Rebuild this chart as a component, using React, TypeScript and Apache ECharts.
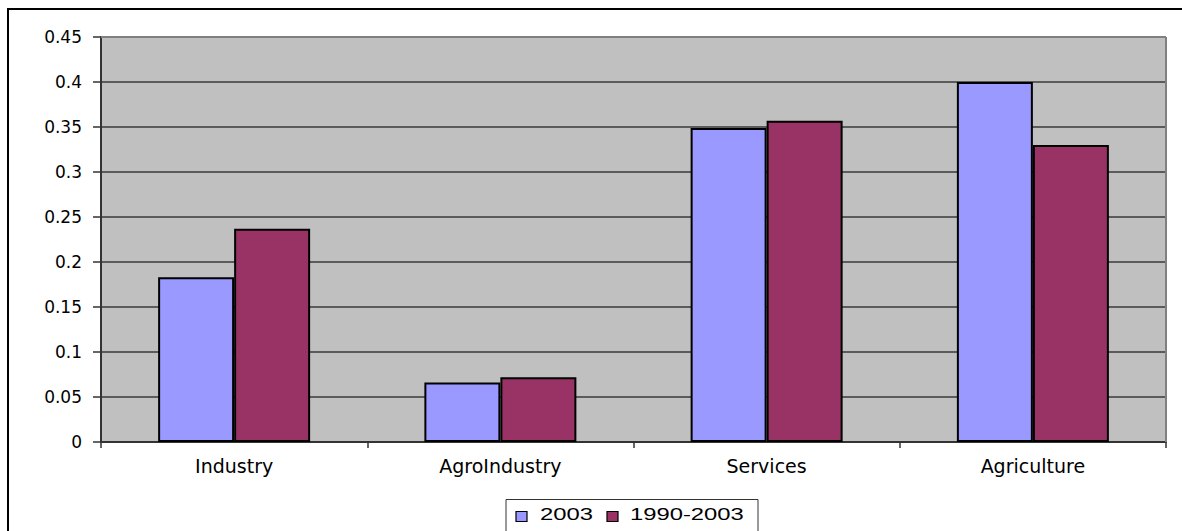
import React, { useEffect, useRef } from "react";
import * as echarts from "echarts";

// Sector shares, two periods
const categories = ["Industry", "AgroIndustry", "Services", "Agriculture"];
const seriesNames = ["2003", "1990-2003"];
const values2003 = [0.183, 0.066, 0.349, 0.4];
const values1990to2003 = [0.237, 0.072, 0.357, 0.33];
const seriesColors = ["#9999FF", "#993366"];

const yMin = 0;
const yMax = 0.45;
const yStep = 0.05;

const labelFont = "'DejaVu Sans', 'Liberation Sans', Arial, sans-serif";
const legendFont = "'Liberation Sans', Arial, sans-serif";

export default function App() {
  const ref = useRef<HTMLDivElement>(null);

  useEffect(() => {
    document.body.style.margin = "0";
    if (!ref.current) return;
    const chart = echarts.init(ref.current, null, { renderer: "svg" });

    const plot = { left: 101, top: 37, right: 1166, bottom: 442 };

    // hand-built legend box with horizontally stretched labels
    const legendItems = [
      { iconX: 516, textX: 540 },
      { iconX: 607, textX: 630 },
    ];
    const legendGraphics: any[] = [
      {
        type: "rect",
        shape: { x: 506, y: 499.5, width: 252, height: 32 },
        style: { fill: "#ffffff", stroke: "#333333", lineWidth: 1 },
        z: 10,
      },
    ];
    seriesNames.forEach((name, i) => {
      legendGraphics.push({
        type: "rect",
        shape: { x: legendItems[i].iconX, y: 511.5, width: 11, height: 10 },
        style: { fill: seriesColors[i], stroke: "#000000", lineWidth: 1.2 },
        z: 11,
      });
      legendGraphics.push({
        type: "text",
        x: legendItems[i].textX,
        y: 514,
        scaleX: 1.4,
        style: {
          text: name,
          fill: "#000000",
          font: `17px ${legendFont}`,
          textAlign: "left",
          textVerticalAlign: "middle",
        },
        z: 11,
      });
    });

    chart.setOption({
      animation: false,
      backgroundColor: "#ffffff",
      grid: {
        left: plot.left,
        top: plot.top,
        width: plot.right - plot.left,
        height: plot.bottom - plot.top,
        show: true,
        backgroundColor: "#C0C0C0",
        borderWidth: 0,
      },
      xAxis: {
        type: "category",
        data: categories,
        axisLine: { show: true, lineStyle: { color: "#333333", width: 2 } },
        axisTick: { show: true, length: 6, lineStyle: { color: "#333333", width: 1.5 } },
        axisLabel: {
          color: "#000000",
          fontFamily: labelFont,
          fontSize: 19,
          margin: 14,
        },
        splitLine: { show: false },
      },
      yAxis: {
        type: "value",
        min: yMin,
        max: yMax,
        interval: yStep,
        axisLine: { show: true, lineStyle: { color: "#333333", width: 2 } },
        axisTick: { show: true, length: 8, lineStyle: { color: "#333333", width: 1.5 } },
        axisLabel: {
          color: "#000000",
          fontFamily: labelFont,
          fontSize: 17,
          margin: 19,
          formatter: (v: number) => String(+v.toFixed(2)),
        },
        splitLine: { show: true, lineStyle: { color: "#3a3a3a", width: 1.5 } },
      },
      series: [
        {
          name: seriesNames[0],
          type: "bar",
          data: values2003,
          barWidth: 76,
          barGap: "0%",
          itemStyle: { color: seriesColors[0], borderColor: "#000000", borderWidth: 2 },
        },
        {
          name: seriesNames[1],
          type: "bar",
          data: values1990to2003,
          barWidth: 76,
          barGap: "0%",
          itemStyle: { color: seriesColors[1], borderColor: "#000000", borderWidth: 2 },
        },
      ],
      graphic: [
        // outer chart frame, running past the page edges
        {
          type: "rect",
          shape: { x: 8, y: 9, width: 1300, height: 700 },
          style: { fill: "none", stroke: "#000000", lineWidth: 2 },
          z: 5,
        },
        // grey plot-area border on top and right
        {
          type: "line",
          shape: { x1: plot.left, y1: plot.top, x2: plot.right, y2: plot.top },
          style: { stroke: "#808080", lineWidth: 2 },
          z: 5,
        },
        {
          type: "line",
          shape: { x1: plot.right, y1: plot.top, x2: plot.right, y2: plot.bottom },
          style: { stroke: "#808080", lineWidth: 2 },
          z: 5,
        },
        ...legendGraphics,
      ],
    });

    return () => chart.dispose();
  }, []);

  return <div ref={ref} style={{ width: 1182, height: 531 }} />;
}
